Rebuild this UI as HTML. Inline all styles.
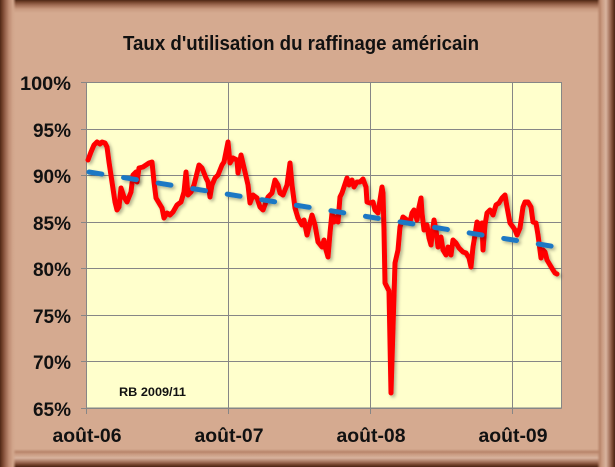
<!DOCTYPE html>
<html>
<head>
<meta charset="utf-8">
<style>
  html, body { margin:0; padding:0; }
  body { width:615px; height:467px; overflow:hidden; background:#d5aa90; position:relative; }
  .b { position:absolute; }
  .left { left:0; top:0; width:16px; height:467px;
    background:linear-gradient(to right,#4e2716 0px,#6e3d27 2px,#95604a 5px,#bf8d74 9px,#d2a68c 13px,rgba(213,170,144,0) 16px); }
  .top { left:0; top:0; width:615px; height:13px;
    background:linear-gradient(to bottom,#4e2716 0px,#74432c 2px,#a06c54 5px,#c99a80 9px,rgba(213,170,144,0) 13px); }
  .right { right:0; top:0; width:18px; height:467px;
    background:linear-gradient(to left,#4a2414 0px,#6e3d27 2px,#a2705a 5px,#d8b39e 9px,#c99a80 13px,#b8856b 15px,rgba(213,170,144,0) 18px); }
  .bottom { left:0; bottom:0; width:615px; height:18px;
    background:linear-gradient(to top,#4a2414 0px,#6e3d27 2px,#a2705a 5px,#d8b39e 9px,#c99a80 13px,#b8856b 15px,rgba(213,170,144,0) 18px); }
  svg { position:absolute; left:0; top:0; }
  text { font-family:"Liberation Sans", Arial, sans-serif; font-weight:bold; fill:#111; }
</style>
</head>
<body>
<div class="b top"></div>
<div class="b bottom"></div>
<div class="b left"></div>
<div class="b right"></div>
<svg width="615" height="467" viewBox="0 0 615 467" xmlns="http://www.w3.org/2000/svg">
  <defs>
    <filter id="sh" x="-10%" y="-10%" width="120%" height="120%">
      <feDropShadow dx="2" dy="2" stdDeviation="1.5" flood-color="#000" flood-opacity="0.3"/>
    </filter>
  </defs>

  <!-- title -->
  <text x="301" y="50" font-size="20" text-anchor="middle" textLength="356" lengthAdjust="spacingAndGlyphs">Taux d'utilisation du raffinage américain</text>

  <!-- plot area -->
  <rect x="86.5" y="82.5" width="475" height="325.5" fill="#ffffcc" stroke="#868686" stroke-width="1"/>

  <!-- gridlines -->
  <g stroke="#868686" stroke-width="1">
    <line x1="81" y1="82.5" x2="561.5" y2="82.5"/>
    <line x1="81" y1="129.5" x2="561.5" y2="129.5"/>
    <line x1="81" y1="175.5" x2="561.5" y2="175.5"/>
    <line x1="81" y1="222.5" x2="561.5" y2="222.5"/>
    <line x1="81" y1="268.5" x2="561.5" y2="268.5"/>
    <line x1="81" y1="315.5" x2="561.5" y2="315.5"/>
    <line x1="81" y1="361.5" x2="561.5" y2="361.5"/>
    <line x1="81" y1="408.5" x2="561.5" y2="408.5"/>
    <line x1="86.5" y1="82.5" x2="86.5" y2="414"/>
    <line x1="228.5" y1="82.5" x2="228.5" y2="414"/>
    <line x1="370.5" y1="82.5" x2="370.5" y2="414"/>
    <line x1="512.5" y1="82.5" x2="512.5" y2="414"/>
  </g>

  <!-- y labels -->
  <g font-size="19" text-anchor="end">
    <text x="71" y="90" textLength="51" lengthAdjust="spacingAndGlyphs">100%</text>
    <text x="71" y="137">95%</text>
    <text x="71" y="183">90%</text>
    <text x="71" y="230">85%</text>
    <text x="71" y="276">80%</text>
    <text x="71" y="323">75%</text>
    <text x="71" y="369">70%</text>
    <text x="71" y="416">65%</text>
  </g>

  <!-- x labels -->
  <g font-size="19" text-anchor="middle">
    <text x="87" y="442" textLength="69" lengthAdjust="spacingAndGlyphs">août-06</text>
    <text x="229" y="442" textLength="69" lengthAdjust="spacingAndGlyphs">août-07</text>
    <text x="371" y="442" textLength="69" lengthAdjust="spacingAndGlyphs">août-08</text>
    <text x="513" y="442" textLength="69" lengthAdjust="spacingAndGlyphs">août-09</text>
  </g>

  <!-- annotation -->
  <text x="119" y="396" font-size="12" textLength="67" lengthAdjust="spacingAndGlyphs">RB 2009/11</text>

  <!-- red series -->
  <polyline filter="url(#sh)" fill="none" stroke="#ff0000" stroke-width="5" stroke-linejoin="round" stroke-linecap="round"
    points="88,160 91,152 94,145 97,142 100,144 102,142 105,143 107,147 109,162 112,182 115,202 117,210 119,207 121,188 124,197 127,202 131,192 133,175 136,172 137,182 139,168 143,167 149,163 152,162 154,182 156,198 159,203 162,208 164,218 167,213 170,215 173,212 177,205 181,202 184,192 186,172 188,195 191,192 194,185 199,165 202,168 206,178 208,182 210,197 212,185 215,178 218,175 222,165 224,162 228,142 230,163 233,158 237,160 238,173 241,155 245,172 248,185 250,203 253,195 257,198 260,207 263,210 266,202 268,197 272,193 275,180 278,185 280,193 283,195 287,185 290,163 292,185 295,208 298,218 302,225 304,220 307,235 310,223 312,215 315,225 318,242 322,247 324,240 326,250 328,257 330,233 332,213 334,222 336,217 338,222 340,197 342,193 344,187 347,178 349,185 352,180 354,187 357,182 360,182 363,179 366,187 367,202 370,203 373,202 375,210 378,213 380,200 382,187 383,193 384,230 385,283 389,291 391,393 395,263 398,250 400,227 403,217 407,220 410,222 412,213 414,210 417,220 419,207 421,198 422,213 424,230 427,225 429,238 431,245 433,227 434,220 436,230 438,247 441,237 443,250 446,255 448,247 451,255 453,240 456,243 459,248 463,252 466,253 469,258 471,267 473,247 475,235 477,222 478,223 480,232 482,223 483,250 485,225 487,213 490,210 493,215 496,205 499,203 502,198 505,195 507,207 510,223 513,227 515,230 517,235 520,228 523,207 525,202 528,202 531,207 533,222 536,223 538,235 541,258 543,250 545,252 547,260 550,265 553,270 555,273 557,274"/>

  <!-- blue dashed trend -->
  <line filter="url(#sh)" x1="89" y1="172" x2="557" y2="247" stroke="#1f78c4" stroke-width="5" stroke-linecap="round" stroke-dasharray="13 22"/>
</svg>
</body>
</html>
